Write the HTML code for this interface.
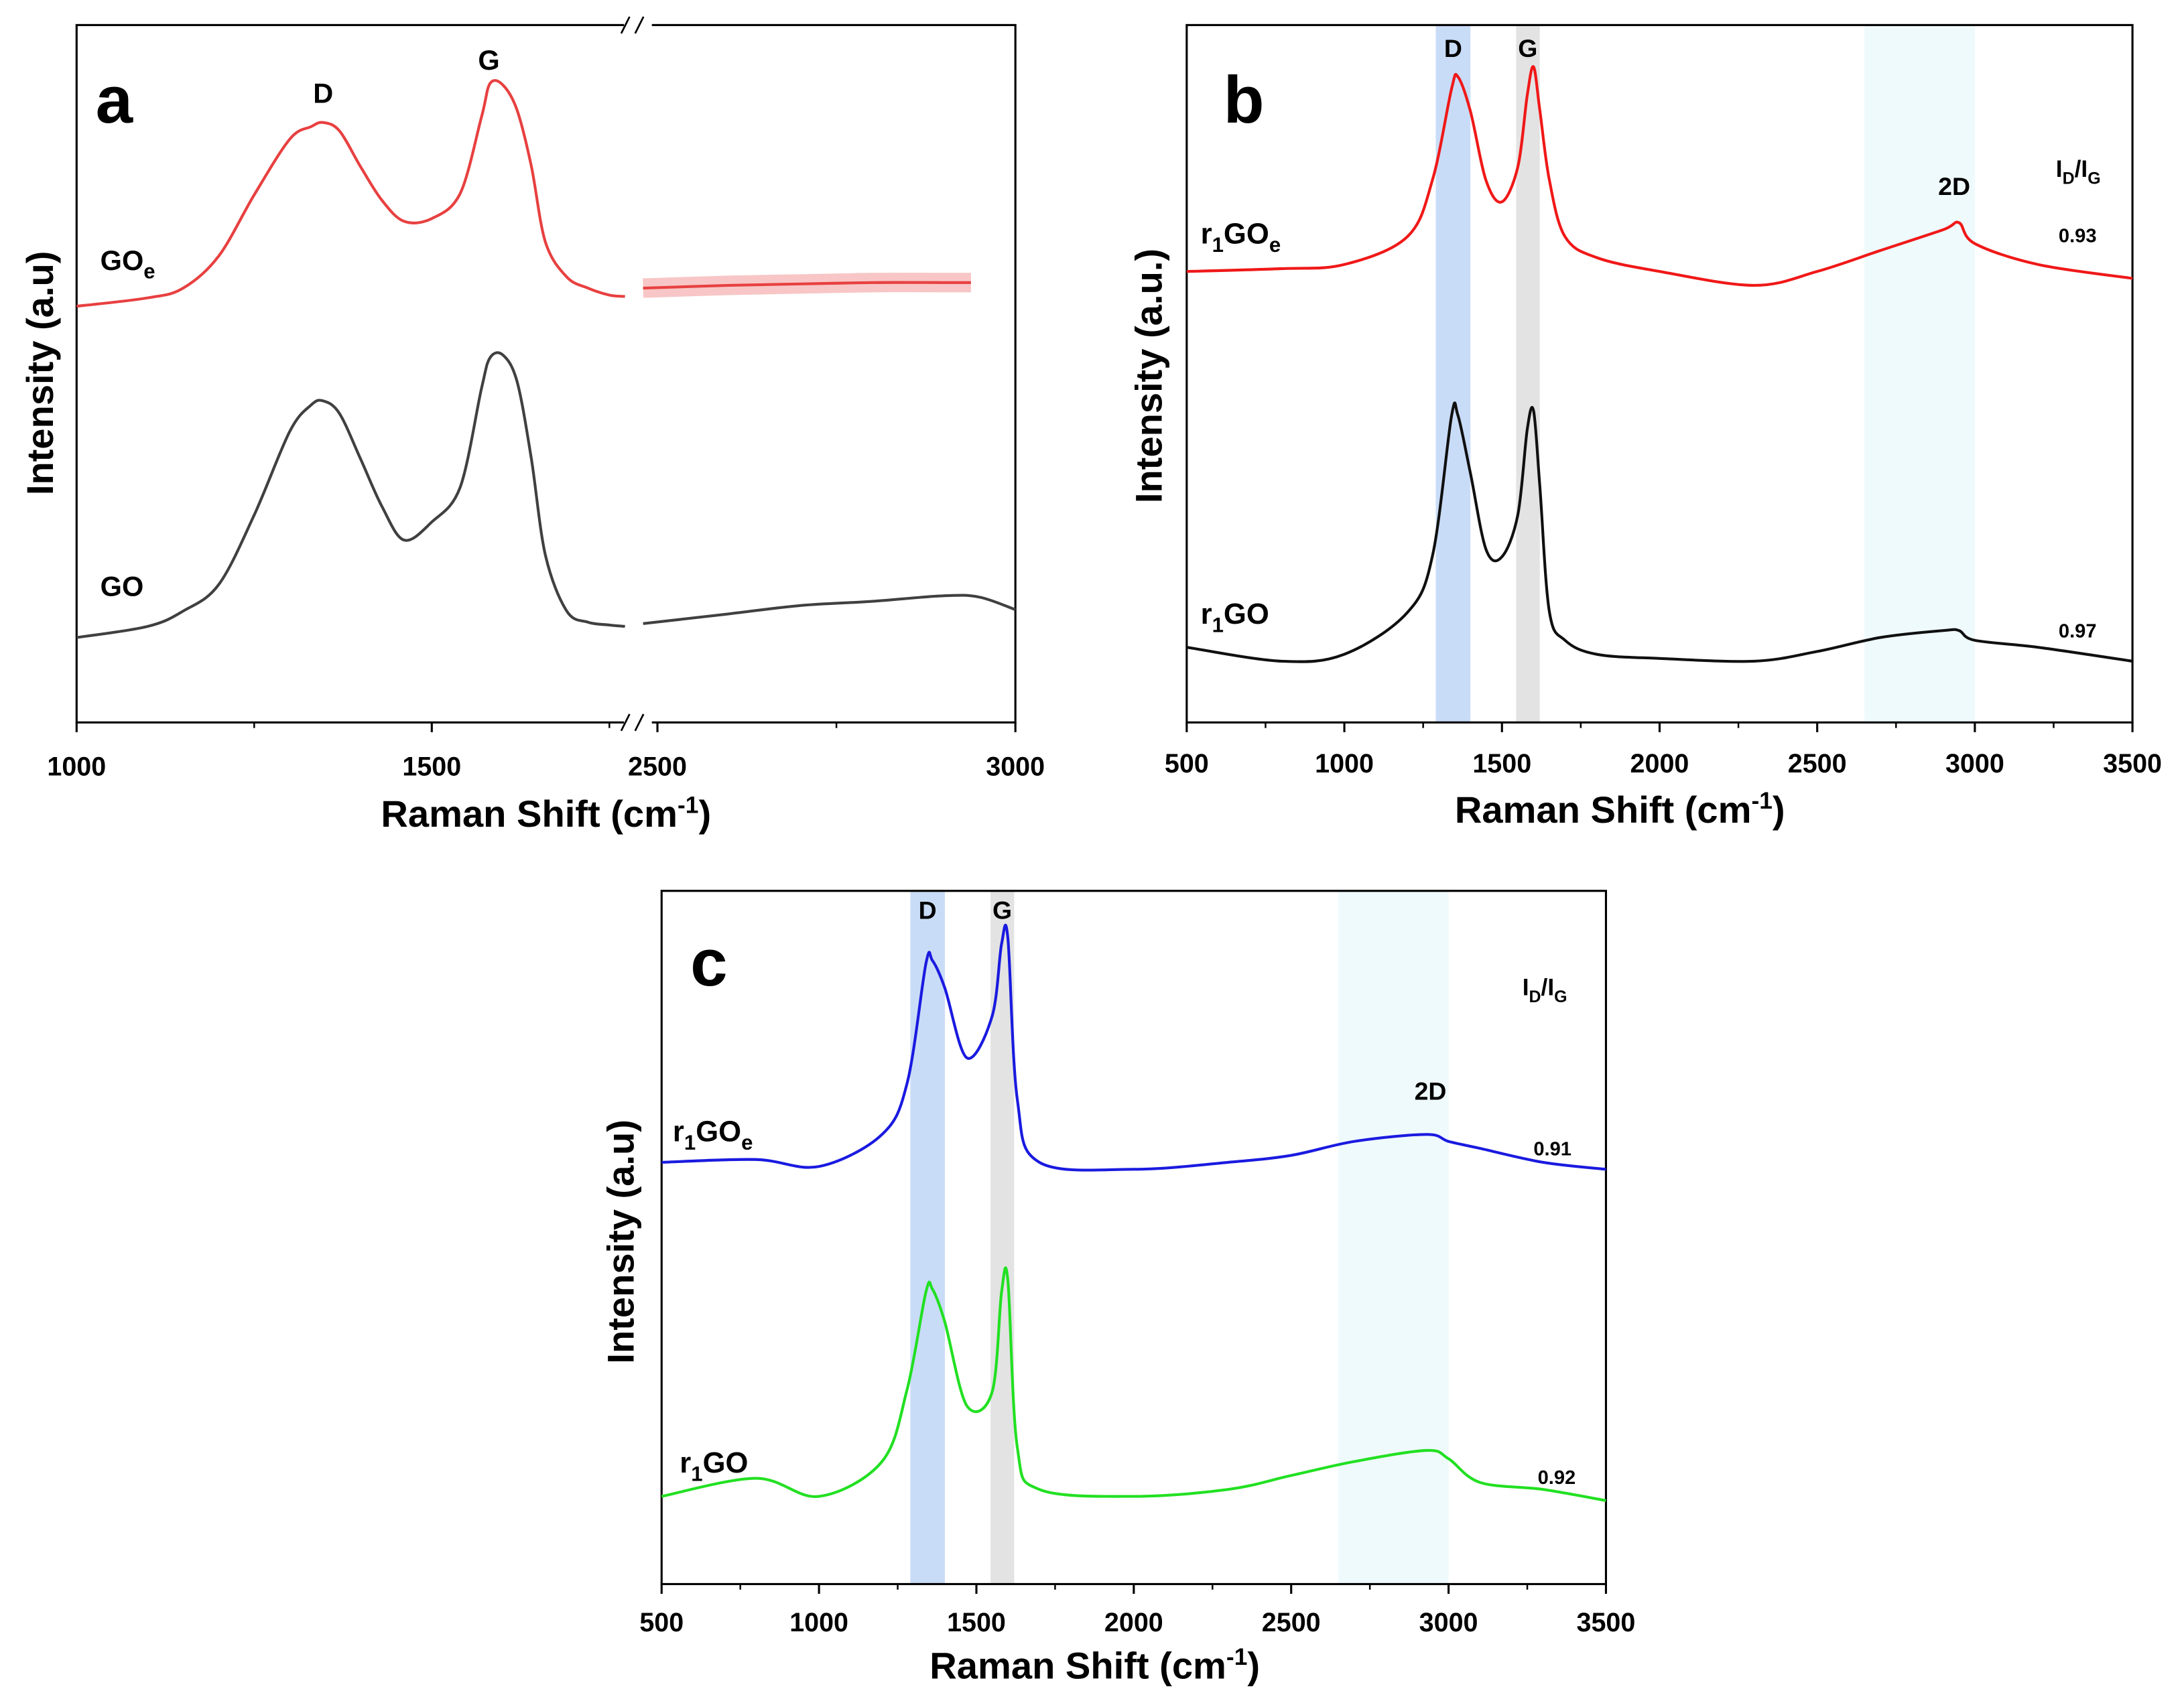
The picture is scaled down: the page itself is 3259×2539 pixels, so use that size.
<!DOCTYPE html>
<html><head><meta charset="utf-8"><style>
html,body{margin:0;padding:0;background:#fff}
svg{display:block}
text{font-family:"Liberation Sans",Arial,sans-serif;font-weight:bold;fill:#000}
</style></head><body>
<svg id="fig" width="3259" height="2539" viewBox="0 0 1568 1222" preserveAspectRatio="none" xmlns="http://www.w3.org/2000/svg"></svg>
<script>
// ---- Panel a data (left segment 1000-1784, right segment 2480-3000) ----
const aGOeLeftX=[1000,1100,1150,1200,1250,1300,1330,1347,1370,1400,1430,1461,1500,1540,1570,1582,1600,1620,1640,1660,1690,1720,1750,1772];
const aGOeLeftY=[299,305,312,335,379,419,428,431,425,399,375,360,362,380,435,459,458,440,400,345,320,312,307,306];
const aGOeRightX=[2480,2600,2700,2800,2900,2938];
const aGOeRightY=[312,314,315,316,316,316];
const aGOLeftX=[1000,1100,1150,1200,1250,1300,1330,1347,1370,1400,1430,1461,1500,1540,1570,1582,1600,1620,1640,1660,1690,1720,1750,1772];
const aGOLeftY=[61,69,80,99,149,209,228,231,222,189,155,131,144,169,240,262,264,245,190,120,80,72,70,69];
const aGORightX=[2480,2600,2700,2800,2900,2950,3000];
const aGORightY=[71,78,84,87,91,90,81];
// ---- Panel b data ----
const bX=[500,800,1000,1200,1280,1340,1360,1400,1450,1500,1550,1580,1600,1620,1650,1700,1800,2000,2300,2500,2700,2900,2950,3000,3200,3500];
const bRedY=[324,326,329,349,390,455,464,439,389,374,399,450,471,440,390,349,334,324,314,324,339,354,359,344,329,319];
const bBlackY=[54,44,49,79,120,220,221,179,124,119,149,210,224,170,80,59,49,46,44,51,61,66,66,59,54,44];
// ---- Panel c data ----
const cX=[500,800,1000,1200,1280,1340,1360,1400,1470,1550,1580,1600,1630,1700,2000,2300,2500,2700,2930,3000,3100,3300,3500];
const cBlueY=[303,305,300,323,360,446,448,428,378,408,460,464,348,303,298,303,308,318,323,318,313,303,298];
const cGreenY=[63,76,63,88,140,210,212,188,128,138,210,218,98,68,63,68,78,88,96,90,73,68,60];
// tick labels
const aTicks=["1000","1500","2500","3000"];
const bTicks=["500","1000","1500","2000","2500","3000","3500"];

const NS="http://www.w3.org/2000/svg";
const svg=document.getElementById('fig');
function el(tag,attrs,parent){const e=document.createElementNS(NS,tag);for(const k in attrs)e.setAttribute(k,attrs[k]);(parent||svg).appendChild(e);return e;}
function txt(s,x,y,size,parent,anchor){const t=el('text',{x:x,y:y,'font-size':size,'text-anchor':anchor||'middle'},parent);t.textContent=s;return t;}
function smooth(pts){let d='M'+pts[0][0].toFixed(1)+','+pts[0][1].toFixed(1);
 for(let i=0;i<pts.length-1;i++){const p0=pts[i-1]||pts[i],p1=pts[i],p2=pts[i+1],p3=pts[i+2]||p2;
  const c1=[p1[0]+(p2[0]-p0[0])/6,p1[1]+(p2[1]-p0[1])/6],c2=[p2[0]-(p3[0]-p1[0])/6,p2[1]-(p3[1]-p1[1])/6];
  d+='C'+c1[0].toFixed(1)+','+c1[1].toFixed(1)+' '+c2[0].toFixed(1)+','+c2[1].toFixed(1)+' '+p2[0].toFixed(1)+','+p2[1].toFixed(1);}
 return d;}
function line(xs,ys,sx,sy,color,name,g,w){const p=el('path',{d:smooth(xs.map((x,i)=>[sx(x),sy(ys[i])])),fill:'none',stroke:color,'stroke-width':w||2},g);
 
 
 return p;}

// ===== Panel a =====
{const g=el('g',{});  
 const L=55,R=729,T=18,B=519;
 const sx=x=> x<2000? L+(x-1000)*0.51 : 472+(x-2500)*0.514;
 const sy=v=> B-v;
 el('rect',{x:L,y:T,width:R-L,height:B-T,fill:'none',stroke:'#000','stroke-width':1.5},g);
 el('rect',{x:448,y:10,width:20,height:16,fill:'#fff'},g);el('rect',{x:448,y:511,width:20,height:16,fill:'#fff'},g);
 [[446,452],[456,462]].forEach(([a,b])=>{el('line',{x1:a,y1:24,x2:b,y2:12,stroke:'#000','stroke-width':1.3},g);el('line',{x1:a,y1:525,x2:b,y2:513,stroke:'#000','stroke-width':1.3},g);});
 const tv=[1000,1500,2500,3000];
 tv.forEach((v,i)=>{el('line',{x1:sx(v),y1:B,x2:sx(v),y2:B+7,stroke:'#000','stroke-width':1.5},g);txt(aTicks[i],sx(v),557,19,g);});
 [1250,1750,2750].forEach(v=>el('line',{x1:sx(v),y1:B,x2:sx(v),y2:B+4,stroke:'#000','stroke-width':1.2},g));
 line(aGOeLeftX,aGOeLeftY,sx,sy,'#e84040','goe-line-left',g);
 const band=line(aGOeRightX,aGOeRightY,sx,sy,'#f08080','goe-noise-band',g,14);band.setAttribute('stroke-opacity','0.45');
 line(aGOeRightX,aGOeRightY,sx,sy,'#e84040','goe-line-right',g);
 line(aGOLeftX,aGOLeftY,sx,sy,'#404040','go-line-left',g);
 line(aGORightX,aGORightY,sx,sy,'#404040','go-line-right',g);
 txt('a',82,88,48,g);txt('D',232,74,20,g);txt('G',351,50,20,g);
 const t1=txt('GO',72,194,20,g,'start');const s=el('tspan',{'font-size':15,dy:6},t1);s.textContent='e';
 txt('GO',72,428,20,g,'start');
 const yt=txt('Intensity (a.u)',0,0,27,g);yt.setAttribute('transform','translate(38,268) rotate(-90)');
 const xt=txt('Raman Shift (cm',392,594,27,g);const sp=el('tspan',{'font-size':17,dy:-10},xt);sp.textContent='-1';const sp2=el('tspan',{dy:10},xt);sp2.textContent=')';
}
// ===== Panel b =====
{const L=852,R=1531,T=18,B=519;
 const g=el('g',{});  
 const sx=x=>L+(x-500)/3000*(R-L), sy=v=>B-v;
 el('rect',{x:sx(1290),y:T,width:sx(1400)-sx(1290),height:B-T,fill:'#c9dcf7'},g);
 el('rect',{x:sx(1545),y:T,width:sx(1620)-sx(1545),height:B-T,fill:'#e3e3e3'},g);
 el('rect',{x:sx(2650),y:T,width:sx(3000)-sx(2650),height:B-T,fill:'#effafd'},g);
 el('rect',{x:L,y:T,width:R-L,height:B-T,fill:'none',stroke:'#000','stroke-width':1.5},g);
 bTicks.forEach(t=>{const v=+t;el('line',{x1:sx(v),y1:B,x2:sx(v),y2:B+7,stroke:'#000','stroke-width':1.5},g);txt(t,sx(v),B+36,19,g);});
 for(let v=750;v<3500;v+=500)el('line',{x1:sx(v),y1:B,x2:sx(v),y2:B+4,stroke:'#000','stroke-width':1.2},g);
 line(bX,bRedY,sx,sy,'#f01818','r1goe-line',g);
 line(bX,bBlackY,sx,sy,'#101010','r1go-line',g);
 txt('D',sx(1345),T+23,18,g);txt('G',sx(1582),T+23,18,g);
 let r=txt('I',1476,127,17,g,'start');let a=el('tspan',{'font-size':12,dy:5},r);a.textContent='D';let b=el('tspan',{dy:-5},r);b.textContent='/I';let c=el('tspan',{'font-size':12,dy:5},r);c.textContent='G';
 txt('b',893,88,48,g);txt('2D',1403,140,18,g);
 txt('0.93',1478,174,14,g,'start');txt('0.97',1478,458,14,g,'start');
 let t=txt('r',862,175,21,g,'start');let s1=el('tspan',{'font-size':15,dy:6},t);s1.textContent='1';let s2=el('tspan',{dy:-6},t);s2.textContent='GO';let s3=el('tspan',{'font-size':15,dy:6},t);s3.textContent='e';
 t=txt('r',862,448,21,g,'start');s1=el('tspan',{'font-size':15,dy:6},t);s1.textContent='1';s2=el('tspan',{dy:-6},t);s2.textContent='GO';
 const yt=txt('Intensity (a.u.)',0,0,27,g);yt.setAttribute('transform','translate(834,270) rotate(-90)');
 const xt=txt('Raman Shift (cm',1163,591,27,g);const sp=el('tspan',{'font-size':17,dy:-10},xt);sp.textContent='-1';const sp2=el('tspan',{dy:10},xt);sp2.textContent=')';
}
// ===== Panel c =====
{const L=475,R=1153,T=640,B=1138;
 const g=el('g',{});  
 const sx=x=>L+(x-500)/3000*(R-L), sy=v=>B-v;
 el('rect',{x:sx(1290),y:T,width:sx(1400)-sx(1290),height:B-T,fill:'#c9dcf7'},g);
 el('rect',{x:sx(1545),y:T,width:sx(1620)-sx(1545),height:B-T,fill:'#e3e3e3'},g);
 el('rect',{x:sx(2650),y:T,width:sx(3000)-sx(2650),height:B-T,fill:'#effafd'},g);
 el('rect',{x:L,y:T,width:R-L,height:B-T,fill:'none',stroke:'#000','stroke-width':1.5},g);
 bTicks.forEach(t=>{const v=+t;el('line',{x1:sx(v),y1:B,x2:sx(v),y2:B+7,stroke:'#000','stroke-width':1.5},g);txt(t,sx(v),B+34,19,g);});
 for(let v=750;v<3500;v+=500)el('line',{x1:sx(v),y1:B,x2:sx(v),y2:B+4,stroke:'#000','stroke-width':1.2},g);
 line(cX,cBlueY,sx,sy,'#1a1ae0','r1goe-line-c',g);
 line(cX,cGreenY,sx,sy,'#22e022','r1go-line-c',g);
 txt('D',sx(1345),T+20,18,g);txt('G',sx(1582),T+20,18,g);
 txt('c',509,708,48,g);txt('2D',1027,790,18,g);
 txt('0.91',1101,830,14,g,'start');txt('0.92',1104,1066,14,g,'start');
 let r=txt('I',1093,715,17,g,'start');let a=el('tspan',{'font-size':12,dy:5},r);a.textContent='D';let b=el('tspan',{dy:-5},r);b.textContent='/I';let c=el('tspan',{'font-size':12,dy:5},r);c.textContent='G';
 let t=txt('r',483,820,21,g,'start');let s1=el('tspan',{'font-size':15,dy:6},t);s1.textContent='1';let s2=el('tspan',{dy:-6},t);s2.textContent='GO';let s3=el('tspan',{'font-size':15,dy:6},t);s3.textContent='e';
 t=txt('r',488,1058,21,g,'start');s1=el('tspan',{'font-size':15,dy:6},t);s1.textContent='1';s2=el('tspan',{dy:-6},t);s2.textContent='GO';
 const yt=txt('Intensity (a.u)',0,0,27,g);yt.setAttribute('transform','translate(455,892) rotate(-90)');
 const xt=txt('Raman Shift (cm',786,1206,27,g);const sp=el('tspan',{'font-size':17,dy:-10},xt);sp.textContent='-1';const sp2=el('tspan',{dy:10},xt);sp2.textContent=')';
}
</script>
</body></html>
